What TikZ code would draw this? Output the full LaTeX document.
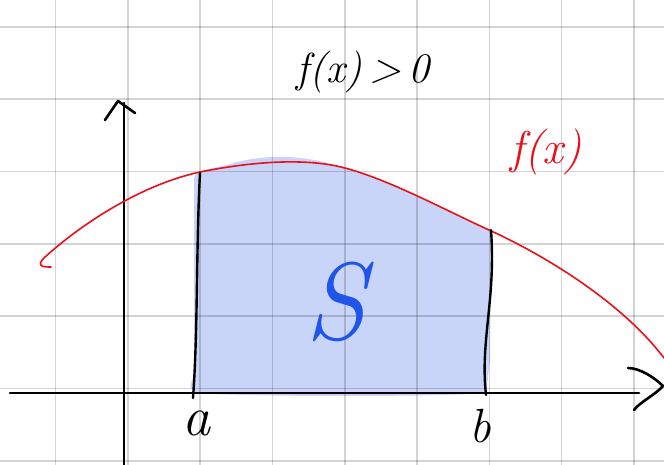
\documentclass[tikz,border=0pt]{standalone}
\usetikzlibrary{calc}
\definecolor{areablue}{HTML}{C9D5F8}
\definecolor{penred}{HTML}{E8101A}
\definecolor{penblue}{HTML}{1F55E8}
\begin{document}
\begin{tikzpicture}[x=1pt,y=-1pt,
  gridline/.style={black,opacity=0.17,line width=1.6pt},
  axisline/.style={black,line width=2.6pt,line cap=round,line join=round},
  boundline/.style={black,line width=2.4pt,line cap=round},
  curveline/.style={penred,line width=1.6pt,line cap=round},
  label/.style={inner sep=0pt,font=\itshape}]
\useasboundingbox (0,0) rectangle (664,465);
\fill[white] (0,0) rectangle (664,465);
% shaded area
\fill[areablue] (194,178) .. controls (196,170) and (215,168) .. (230,164)
  .. controls (250,158) and (275,155) .. (300,158)
  .. controls (320,160) and (330,164) .. (345,168)
  .. controls (390,180) and (445,210) .. (491,231)
  -- (490,360) -- (486,393) .. controls (440,397) and (250,397) .. (198,393)
  .. controls (190,392) and (188,384) .. (194,378) -- cycle;
% grid
\foreach \gx in {55.5,127.8,200.1,272.4,344.7,417,489.3,561.6,633.9}
  \draw[gridline] (\gx,0) -- (\gx,465);
\foreach \gy in {27,99.3,171.6,243.9,316.2,388.5,460.8}
  \draw[gridline] (0,\gy) -- (664,\gy);
% axes
\coordinate (ybot) at (124,465);
\coordinate (ytop) at (124,103);
\coordinate (xleft) at (10,393);
\coordinate (xright) at (639,393);
\draw[axisline] (ybot) -- (ytop);
\draw[axisline] (105,120) -- (118,101) -- (135,113);
\draw[axisline] (xleft) -- (xright);
\draw[axisline] (628,368) .. controls (640,368) and (655,378) .. (663,386) .. controls (655,395) and (640,402) .. (634,410);
% curve
\draw[curveline] (51,267) .. controls (42,267) and (36,266) .. (44,258)
  .. controls (80,225) and (140,185) .. (200,172)
  .. controls (240,164) and (300,156) .. (345,168)
  .. controls (390,180) and (445,210) .. (489,230)
  .. controls (540,253) and (620,300) .. (664,358);
% bounds
\coordinate (atop) at (200,173);
\coordinate (abot) at (193,398);
\coordinate (btop) at (491,230);
\coordinate (bbot) at (486,395);
\draw[boundline] (atop) .. controls (196,250) and (198,330) .. (abot);
\draw[boundline] (btop) .. controls (496,300) and (480,340) .. (bbot);
% labels
\node[label] (cond) at (363,72) {\fontsize{42}{42}\selectfont f(x)\,>\,0};
\node[label,text=penred] (fx) at (546,152) {\fontsize{46}{46}\selectfont f(x)};
\node[label,text=penblue] (S) at (336,302) {\fontsize{110}{110}\selectfont S};
\node[label] (a) at (196,423) {\fontsize{56}{56}\selectfont a};
\node[label] (b) at (480,426) {\fontsize{48}{48}\selectfont b};
\end{tikzpicture}
\end{document}
